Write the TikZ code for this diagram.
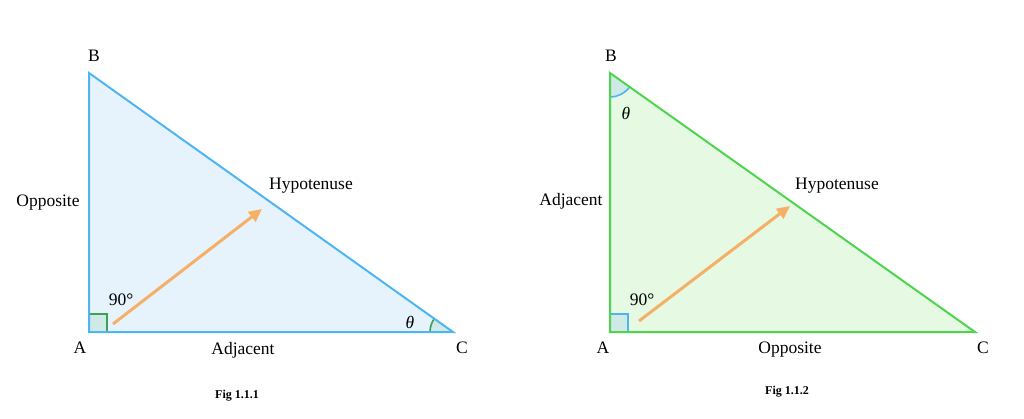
\documentclass[tikz,border=0pt]{standalone}
\usepackage{fontspec}
\setmainfont{Liberation Serif}
\usetikzlibrary{arrows.meta,angles}
\definecolor{triblue}{HTML}{4DB6F2}
\definecolor{blfill}{HTML}{E6F3FD}
\definecolor{trigreen}{HTML}{4ED54E}
\definecolor{grfill}{HTML}{E5F9E3}
\definecolor{markfill}{HTML}{CFE9E6}
\definecolor{markgreen}{HTML}{3F9F52}
\definecolor{arroworange}{HTML}{F5B068}
\tikzset{
  lbl/.style={font=\fontsize{17.5}{20}\selectfont, inner sep=0pt},
  figlbl/.style={font=\fontsize{12}{14}\selectfont\bfseries, inner sep=0pt, anchor=base},
  vecarrow/.style={draw=arroworange, line width=3pt, -{Triangle[length=13pt,width=12pt]}},
}
\begin{document}
\begin{tikzpicture}[x=1pt,y=1pt]
\useasboundingbox (0,0) rectangle (1024,418);
% left triangle
\coordinate (A1) at (89,86);
\coordinate (B1) at (89,345);
\coordinate (C1) at (453,86);
\fill[blfill] (A1) -- (B1) -- (C1) -- cycle;
\draw[markgreen, fill=markfill, line width=1.6pt] (A1) rectangle ++(18,18);
\pic[draw=markgreen, fill=markfill, line width=1.6pt, angle radius=23pt] {angle=B1--C1--A1};
\draw[triblue, line width=2pt, line join=miter] (A1) -- (B1) -- (C1) -- cycle;
\coordinate (s1) at (113,94);
\coordinate (e1) at (262,209);
\draw[vecarrow] (s1) -- (e1);
\node[lbl] (lB1) at (94,362) {B};
\node[lbl] (lA1) at (80,70) {A};
\node[lbl] (lC1) at (462,70) {C};
\node[lbl] (opp1) at (48,215) {Opposite};
\node[lbl] (hyp1) at (311,232) {Hypotenuse};
\node[lbl] (adj1) at (243,68) {Adjacent};
\node[lbl] (deg1) at (121,118) {90°};
\node[lbl] (th1) at (410,96) {\itshape θ};
\node[figlbl] (fig1) at (237,20) {Fig 1.1.1};
% right triangle
\coordinate (A2) at (610,86);
\coordinate (B2) at (610,345);
\coordinate (C2) at (975,86);
\fill[grfill] (A2) -- (B2) -- (C2) -- cycle;
\draw[triblue, fill=markfill, line width=1.6pt] (A2) rectangle ++(18,18);
\pic[draw=triblue, fill=markfill, line width=1.6pt, angle radius=24pt] {angle=A2--B2--C2};
\draw[trigreen, line width=2pt, line join=miter] (A2) -- (B2) -- (C2) -- cycle;
\coordinate (s2) at (639,97);
\coordinate (e2) at (790,212);
\draw[vecarrow] (s2) -- (e2);
\node[lbl] (lB2) at (611,362) {B};
\node[lbl] (lA2) at (603,70) {A};
\node[lbl] (lC2) at (983,70) {C};
\node[lbl] (adj2) at (571,217) {Adjacent};
\node[lbl] (hyp2) at (837,232) {Hypotenuse};
\node[lbl] (opp2) at (790,68) {Opposite};
\node[lbl] (deg2) at (642,118) {90°};
\node[lbl] (th2) at (626,305) {\itshape θ};
\node[figlbl] (fig2) at (787,24) {Fig 1.1.2};
\end{tikzpicture}
\end{document}
